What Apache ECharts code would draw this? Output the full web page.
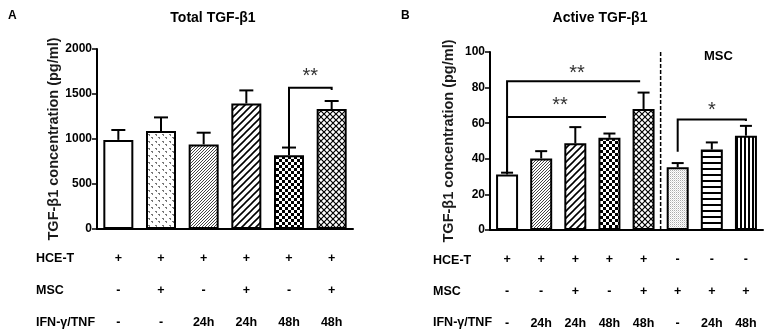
<!DOCTYPE html>
<html>
<head>
<meta charset="utf-8">
<script src="https://cdn.jsdelivr.net/npm/echarts@6/dist/echarts.min.js"></script>
<style>
  html, body { margin: 0; padding: 0; background: #fff; }
  #chart { width: 769px; height: 334px; }
</style>
</head>
<body>
<div id="chart"></div>
<script>
  // panel A - total TGF-b1
  var hceA = ['+', '+', '+', '+', '+', '+']
  var mscA = ['-', '+', '-', '+', '-', '+']
  var ifnA = ['-', '-', '24h', '24h', '48h', '48h']
  var meanA = [990, 1090, 940, 1395, 820, 1332]
  var upperA = [1100, 1240, 1070, 1540, 905, 1422]
  var patA = ['white', 'dots', 'fineDiag', 'wideDiag', 'checker', 'cross']

  // panel B - active TGF-b1
  var hceB = ['+', '+', '+', '+', '+', '-', '-', '-']
  var mscB = ['-', '-', '+', '-', '+', '+', '+', '+']
  var ifnB = ['-', '24h', '24h', '48h', '48h', '-', '24h', '48h']
  var meanB = [31.2, 40.2, 48.7, 51.8, 68, 35.3, 45.2, 53]
  var upperB = [32.2, 44.3, 57.8, 54.2, 77.2, 37.6, 49.2, 58.5]
  var patB = ['white', 'fineDiag', 'wideDiag', 'checker', 'cross', 'stipple', 'hstripe', 'vstripe']

  // brackets: [x1, x2, yTop, yLeftBottom, yRightBottom]  (-1 = no drop)
  var bracketsA = [[4, 5, 1570, 905, 1545]]
  var bracketsB = [[0, 3.9, 83.6, 32.6, -1], [0, 2.9, 63.5, 32.6, -1], [5, 7, 62.1, 44, 61.3]]
  // stars: [x, y, text]
  var starsA = [[4.5, 1690, '**']]
  var starsB = [[2.05, 88, '**'], [1.55, 70, '**'], [6.0, 67, '*']]

  function makePattern(kind) {
    if (kind === 'white') return '#fff'
    var c = document.createElement('canvas')
    var g = c.getContext('2d')
    var s = 6
    if (kind === 'dots') s = 7
    if (kind === 'fineDiag') s = 3
    if (kind === 'wideDiag') s = 7
    if (kind === 'checker') s = 6
    if (kind === 'cross') s = 6
    if (kind === 'stipple') s = 2
    if (kind === 'hstripe') s = 6
    if (kind === 'vstripe') s = 4
    c.width = s
    c.height = s
    g.fillStyle = '#fff'
    g.fillRect(0, 0, s, s)
    g.fillStyle = '#000'
    g.strokeStyle = '#000'
    if (kind === 'dots') {
      g.fillStyle = '#777'
      g.fillRect(1, 1, 2, 1)
      g.fillRect(2, 2, 1, 1)
      g.fillRect(4, 4, 2, 1)
      g.fillRect(5, 5, 1, 1)
    } else if (kind === 'fineDiag' || kind === 'wideDiag') {
      g.strokeStyle = kind === 'fineDiag' ? '#444' : '#000'
      g.lineWidth = kind === 'fineDiag' ? 1 : 1.6
      g.beginPath()
      g.moveTo(0, s); g.lineTo(s, 0)
      g.moveTo(-1, 1); g.lineTo(1, -1)
      g.moveTo(s - 1, s + 1); g.lineTo(s + 1, s - 1)
      g.stroke()
    } else if (kind === 'checker') {
      g.fillRect(0, 0, 3, 3)
      g.fillRect(3, 3, 3, 3)
    } else if (kind === 'cross') {
      g.lineWidth = 1.2
      g.beginPath()
      g.moveTo(0, 0); g.lineTo(s, s)
      g.moveTo(0, s); g.lineTo(s, 0)
      g.stroke()
    } else if (kind === 'stipple') {
      g.fillStyle = '#aaa'
      g.fillRect(0, 0, 1, 1)
      g.fillStyle = '#ddd'
      g.fillRect(1, 1, 1, 1)
    } else if (kind === 'hstripe') {
      g.fillRect(0, 0, s, 2)
    } else if (kind === 'vstripe') {
      g.fillRect(0, 0, 2, s)
    }
    return { image: c, repeat: 'repeat' }
  }

  function barData(vals, pats) {
    return vals.map(function (v, i) {
      return { value: v, itemStyle: { color: makePattern(pats[i]) } }
    })
  }

  function errData(mean, upper) {
    return mean.map(function (m, i) { return [i, m, upper[i]] })
  }

  function errRender(capW) {
    return function (params, api) {
      var p0 = api.coord([api.value(0), api.value(1)])
      var p1 = api.coord([api.value(0), api.value(2)])
      var st = { stroke: '#000', lineWidth: 2 }
      return {
        type: 'group',
        children: [
          { type: 'line', shape: { x1: p0[0], y1: p0[1], x2: p1[0], y2: p1[1] }, style: st },
          { type: 'line', shape: { x1: p1[0] - capW / 2, y1: p1[1], x2: p1[0] + capW / 2, y2: p1[1] }, style: st }
        ]
      }
    }
  }

  function xPix(api, v) {
    var c0 = api.coord([0, 0])[0]
    var band = api.size([1, 0])[0]
    return c0 + v * band
  }

  function bracketRender(list) {
    return function (params, api) {
      var b = list[params.dataIndex]
      var x1 = xPix(api, b[0]), x2 = xPix(api, b[1])
      var yT = api.coord([0, b[2]])[1]
      var pts = []
      pts.push([x1, api.coord([0, b[3]])[1]])
      pts.push([x1, yT])
      pts.push([x2, yT])
      if (b[4] >= 0) pts.push([x2, api.coord([0, b[4]])[1]])
      return { type: 'polyline', shape: { points: pts }, style: { stroke: '#000', lineWidth: 2, fill: null } }
    }
  }

  function starRender(list) {
    return function (params, api) {
      var s = list[params.dataIndex]
      return {
        type: 'text',
        x: xPix(api, s[0]),
        y: api.coord([0, s[1]])[1],
        style: {
          text: s[2], fill: '#333', font: '20px "Liberation Sans"',
          align: 'center', verticalAlign: 'middle'
        }
      }
    }
  }

  function dividerRender(params, api) {
    var x = xPix(api, 4.5)
    var y0 = api.coord([0, 0])[1]
    var y1 = api.coord([0, 100])[1]
    return { type: 'line', shape: { x1: x, y1: y0, x2: x, y2: y1 }, style: { stroke: '#000', lineWidth: 1.5, lineDash: [4, 2] } }
  }

  function idxList(list) {
    return list.map(function (d, i) { return [i, 0] })
  }

  function xAxisOf(grid, hce, msc, ifn) {
    return {
      type: 'category',
      gridIndex: grid,
      data: hce.map(function (h, i) { return h + '\n' + msc[i] + '\n' + ifn[i] }),
      axisLine: { lineStyle: { color: '#000', width: 2 } },
      axisTick: { alignWithLabel: true, length: 5, lineStyle: { color: '#000', width: 1.5 } },
      axisLabel: {
        color: '#000', fontFamily: 'Liberation Sans', fontWeight: 'bold', fontSize: 12.5,
        lineHeight: 32, margin: 14, interval: 0
      }
    }
  }

  function yAxisOf(grid, max, interval, gap) {
    return {
      type: 'value',
      gridIndex: grid,
      min: 0, max: max, interval: interval,
      name: 'TGF-β1 concentration (pg/ml)',
      nameLocation: 'middle',
      nameGap: gap,
      nameTextStyle: { color: '#1a1a1a', fontFamily: 'Liberation Sans', fontWeight: 'bold', fontSize: 14.5 },
      splitLine: { show: false },
      axisLine: { show: true, lineStyle: { color: '#000', width: 2 } },
      axisTick: { show: true, length: 5, lineStyle: { color: '#000', width: 1.5 } },
      axisLabel: {
        color: '#000', fontFamily: 'Liberation Sans', fontWeight: 'bold', fontSize: 12, margin: 5,
        formatter: function (v) { return String(v) }
      }
    }
  }

  var rowLabel = { fill: '#000', font: 'bold 12.5px "Liberation Sans"' }

  var chart = echarts.init(document.getElementById('chart'))
  chart.setOption({
    animation: false,
    textStyle: { fontFamily: 'Liberation Sans' },
    title: [
      { text: 'A', left: 3, top: 5, textStyle: { fontSize: 12, fontWeight: 'bold', color: '#000' } },
      { text: 'Total TGF-β1', left: 208, textAlign: 'center', top: 6, textStyle: { fontSize: 14, fontWeight: 'bold', color: '#000' } },
      { text: 'B', left: 396, top: 5, textStyle: { fontSize: 12, fontWeight: 'bold', color: '#000' } },
      { text: 'Active TGF-β1', left: 595, textAlign: 'center', top: 6, textStyle: { fontSize: 14, fontWeight: 'bold', color: '#000' } }
    ],
    graphic: [
      { type: 'text', left: 36, top: 252, style: Object.assign({ text: 'HCE-T' }, rowLabel) },
      { type: 'text', left: 36, top: 284, style: Object.assign({ text: 'MSC' }, rowLabel) },
      { type: 'text', left: 36, top: 316, style: Object.assign({ text: 'IFN-γ/TNF' }, rowLabel) },
      { type: 'text', left: 433, top: 254, style: Object.assign({ text: 'HCE-T' }, rowLabel) },
      { type: 'text', left: 433, top: 285, style: Object.assign({ text: 'MSC' }, rowLabel) },
      { type: 'text', left: 433, top: 316, style: Object.assign({ text: 'IFN-γ/TNF' }, rowLabel) },
      { type: 'text', left: 704, top: 50, style: { text: 'MSC', fill: '#000', font: 'bold 13px "Liberation Sans"' } }
    ],
    grid: [
      { left: 97, right: 416, top: 49, bottom: 105, outerBoundsMode: 'none' },
      { left: 490, right: 6, top: 52, bottom: 104, outerBoundsMode: 'none' }
    ],
    xAxis: [xAxisOf(0, hceA, mscA, ifnA), xAxisOf(1, hceB, mscB, ifnB)],
    yAxis: [yAxisOf(0, 2000, 500, 34), yAxisOf(1, 100, 20, 34)],
    series: [
      {
        type: 'bar', xAxisIndex: 0, yAxisIndex: 0, barWidth: 30,
        itemStyle: { borderColor: '#000', borderWidth: 2 },
        data: barData(meanA, patA)
      },
      {
        type: 'custom', xAxisIndex: 0, yAxisIndex: 0, z: 3,
        renderItem: errRender(14), data: errData(meanA, upperA)
      },
      {
        type: 'custom', xAxisIndex: 0, yAxisIndex: 0, z: 3,
        renderItem: bracketRender(bracketsA), data: idxList(bracketsA)
      },
      {
        type: 'custom', xAxisIndex: 0, yAxisIndex: 0, z: 3,
        renderItem: starRender(starsA), data: idxList(starsA)
      },
      {
        type: 'bar', xAxisIndex: 1, yAxisIndex: 1, barWidth: 22,
        itemStyle: { borderColor: '#000', borderWidth: 2 },
        data: barData(meanB, patB)
      },
      {
        type: 'custom', xAxisIndex: 1, yAxisIndex: 1, z: 3,
        renderItem: errRender(12), data: errData(meanB, upperB)
      },
      {
        type: 'custom', xAxisIndex: 1, yAxisIndex: 1, z: 3,
        renderItem: bracketRender(bracketsB), data: idxList(bracketsB)
      },
      {
        type: 'custom', xAxisIndex: 1, yAxisIndex: 1, z: 3,
        renderItem: starRender(starsB), data: idxList(starsB)
      },
      {
        type: 'custom', xAxisIndex: 1, yAxisIndex: 1, z: 3,
        renderItem: dividerRender, data: [[0, 0]]
      }
    ]
  })
</script>
</body>
</html>
